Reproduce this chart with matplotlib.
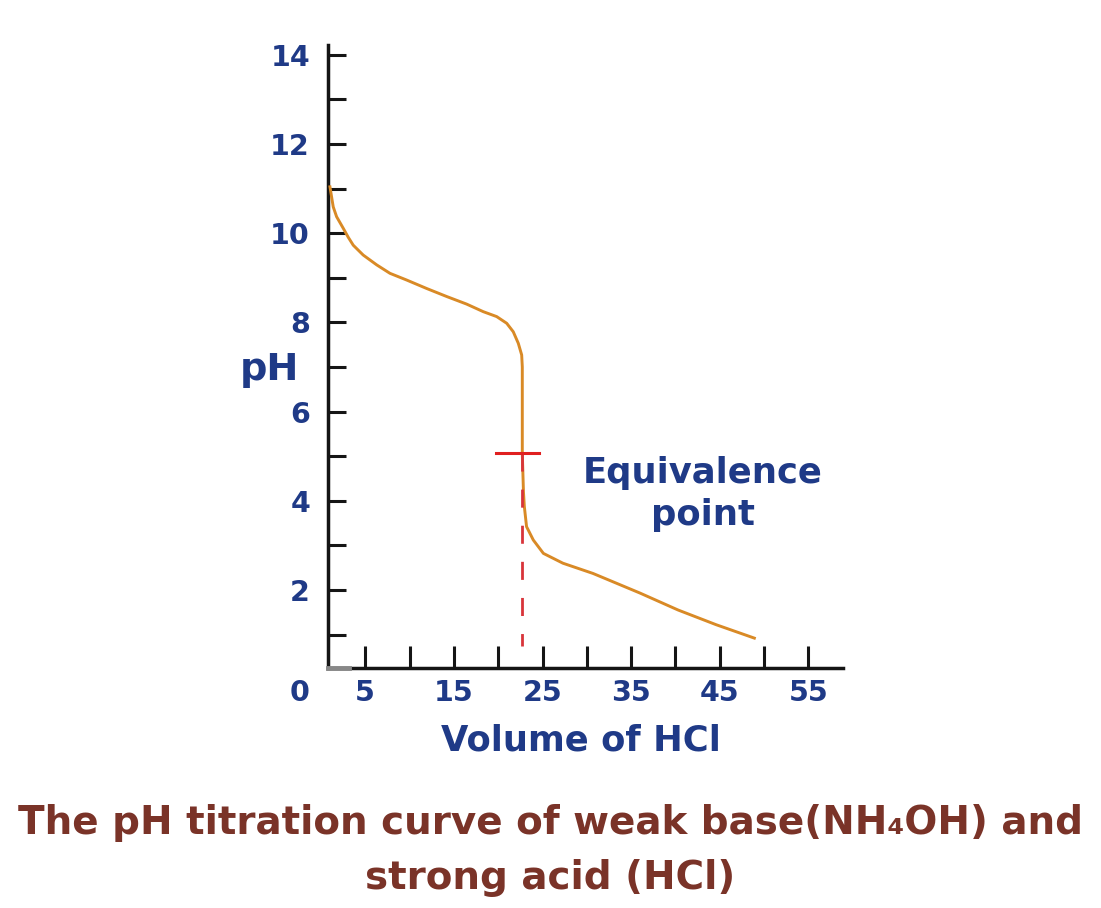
import numpy as np
import matplotlib.pyplot as plt

# dados (volume de HCl x pH)
volume = [1.02, 1.39, 1.77, 2.52, 3.08, 3.65, 4.77, 6.29, 7.79, 9.67, 11.93,
          14.19, 16.44, 18.32, 19.83, 20.96, 21.70, 22.27, 22.65, 22.72, 22.72,
          22.85, 22.95, 23.2, 23.96, 25.1, 27.3, 30.7, 36.0, 40.3, 44.6, 48.9]
ph = [11.04, 10.59, 10.37, 10.11, 9.91, 9.73, 9.51, 9.29, 9.10, 8.95, 8.76,
      8.58, 8.41, 8.24, 8.13, 7.98, 7.79, 7.53, 7.27, 7.0, 5.07,
      4.2, 3.87, 3.42, 3.12, 2.82, 2.6, 2.37, 1.93, 1.55, 1.22, 0.92]

# ponto de equivalencia
eq_volume = 22.65
eq_ph = 5.07
eq_ph_bottom = 0.75

xticks = [5, 10, 15, 20, 25, 30, 35, 40, 45, 50, 55]
xlabels = ['5', '', '15', '', '25', '', '35', '', '45', '', '55']
yticks = list(range(1, 15))
ylabels = [str(t) if t % 2 == 0 else '' for t in yticks]

azul = '#1f3a87'
marrom = '#7a3328'
laranja = '#d98a26'
vermelho = '#e02020'

fig = plt.figure(figsize=(11.01, 9.08), dpi=100)
ax = fig.add_axes([328/1101, 240/908, 515/1101, 623/908])

ax.plot(volume, ph, color=laranja, linewidth=2.1, zorder=3,
        solid_joinstyle='round')

ax.plot([eq_volume - 2.85, eq_volume + 1.95], [eq_ph, eq_ph], color=vermelho,
        linewidth=2.2, zorder=5)
ax.plot([eq_volume, eq_volume], [eq_ph, eq_ph_bottom], color='#d8343a',
        linewidth=2.0, linestyle=(0, (6.5, 6.5)), zorder=4)
ax.text(43.1, 4.15, 'Equivalence\npoint', color=azul, fontsize=25.5,
        fontweight='bold', ha='center', va='center', linespacing=1.3)

# pedacinho cinza na origem
ax.plot([0.8, 3.2], [0.25, 0.25], color='#888888', linewidth=3.5, zorder=5,
        clip_on=False)

ax.set_xlim(0.8, 58.9)
ax.set_ylim(0.25, 14.22)
ax.set_xticks(xticks)
ax.set_xticklabels(xlabels)
ax.set_yticks(yticks)
ax.set_yticklabels(ylabels)

for s in ['top', 'right']:
    ax.spines[s].set_visible(False)
for s in ['left', 'bottom']:
    ax.spines[s].set_linewidth(2.5)
    ax.spines[s].set_color('#151515')

ax.tick_params(axis='x', direction='in', length=16, width=2.2, color='#151515',
               pad=8, labelsize=20.5, labelcolor=azul)
ax.tick_params(axis='y', direction='in', length=13, width=2.2, color='#151515',
               pad=13, labelsize=20.5, labelcolor=azul)
for lab in ax.get_xticklabels() + ax.get_yticklabels():
    lab.set_fontweight('bold')

ax.text(-0.0544, -0.0401, '0', transform=ax.transAxes, color=azul,
        fontsize=20.5, fontweight='bold', ha='center', va='center')

ax.set_ylabel('pH', color=azul, fontsize=27.5, fontweight='bold', rotation=0,
              ha='center', va='center')
ax.yaxis.set_label_coords(-0.1146, 0.478)
ax.set_xlabel('Volume of HCl', color=azul, fontsize=25.5, fontweight='bold',
              va='center')
ax.xaxis.set_label_coords(0.491, -0.1156)

fig.text(0.5, 1 - 823/908, 'The pH titration curve of weak base(NH₄OH) and',
         color=marrom, fontsize=28, fontweight='bold', ha='center', va='center')
fig.text(0.5, 1 - 878/908, 'strong acid (HCl)',
         color=marrom, fontsize=28, fontweight='bold', ha='center', va='center')

fig.savefig('out.png', dpi=100)
